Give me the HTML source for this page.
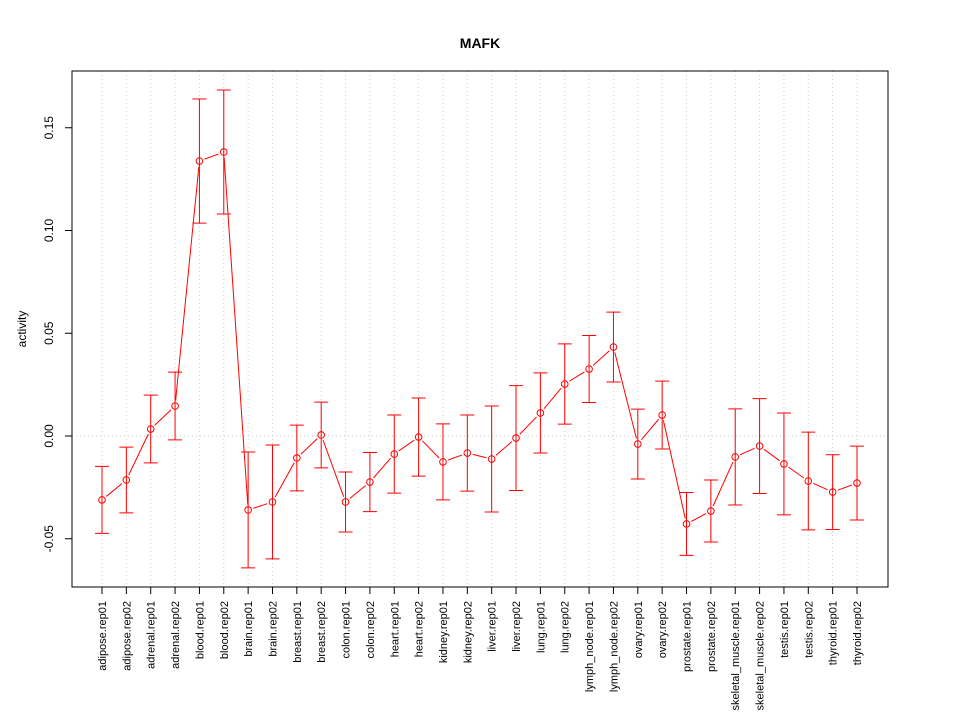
<!DOCTYPE html>
<html><head><meta charset="utf-8"><style>body{margin:0;background:#fff}svg{display:block;font-family:"Liberation Sans",sans-serif}</style></head>
<body>
<svg id="c" width="960" height="720"></svg>
<script>
const categories=["adipose.rep01","adipose.rep02","adrenal.rep01","adrenal.rep02","blood.rep01","blood.rep02","brain.rep01","brain.rep02","breast.rep01","breast.rep02","colon.rep01","colon.rep02","heart.rep01","heart.rep02","kidney.rep01","kidney.rep02","liver.rep01","liver.rep02","lung.rep01","lung.rep02","lymph_node.rep01","lymph_node.rep02","ovary.rep01","ovary.rep02","prostate.rep01","prostate.rep02","skeletal_muscle.rep01","skeletal_muscle.rep02","testis.rep01","testis.rep02","thyroid.rep01","thyroid.rep02"];
const values=[-0.0311,-0.0214,0.0034,0.0146,0.1338,0.1382,-0.0360,-0.0321,-0.0107,0.0005,-0.0321,-0.0224,-0.0088,-0.0005,-0.0126,-0.0083,-0.0112,-0.0010,0.0112,0.0253,0.0326,0.0433,-0.0039,0.0102,-0.0428,-0.0365,-0.0102,-0.0049,-0.0136,-0.0219,-0.0273,-0.0229];
const errors=[0.0163,0.016,0.0165,0.0165,0.0302,0.0302,0.0282,0.0277,0.016,0.016,0.0146,0.0144,0.019,0.019,0.0185,0.0185,0.0258,0.0255,0.0195,0.0195,0.0163,0.017,0.017,0.0165,0.0153,0.0151,0.0234,0.0231,0.0248,0.0238,0.0182,0.018];
const yTicks=[-0.05,0,0.05,0.10,0.15];
const yTickLabels=["-0.05","0.00","0.05","0.10","0.15"];
const svg=document.getElementById('c');const NS="http://www.w3.org/2000/svg";
function mk(t,a,p){const e=document.createElementNS(NS,t);for(const k in a)e.setAttribute(k,a[k]);(p||svg).appendChild(e);return e;}
const L=72,R=888,T=71,B=587;
const x=i=>102+i*(857-102)/(categories.length-1);
const y=v=>436-v*2055;
let e;
e=mk('text',{x:480,y:48,'text-anchor':'middle','font-size':14,'font-weight':'bold'});e.textContent="MAFK";


categories.forEach((c,i)=>{
 e=mk('line',{x1:x(i),x2:x(i),y1:T,y2:B,stroke:'#ccc','stroke-dasharray':'1,3'});
 
 
 e=mk('line',{x1:x(i),x2:x(i),y1:B,y2:B+7,stroke:'#000'});
 
 
 e=mk('text',{x:0,y:0,'font-size':11,'text-anchor':'end',transform:`translate(${x(i)+4},${B+14}) rotate(-90)`});e.textContent=c;
 
 
});
e=mk('line',{x1:L,x2:R,y1:y(0),y2:y(0),stroke:'#ccc','stroke-dasharray':'1,3'});


yTicks.forEach((t,i)=>{
 e=mk('line',{x1:L-7,x2:L,y1:y(t),y2:y(t),stroke:'#000'});
 
 
 e=mk('text',{x:0,y:0,'font-size':12,'text-anchor':'middle',transform:`translate(${L-19},${y(t)}) rotate(-90)`});e.textContent=yTickLabels[i];
 
 
});
e=mk('text',{x:0,y:0,'font-size':12,'text-anchor':'middle',transform:`translate(26,329) rotate(-90)`});e.textContent="activity";


for(let i=0;i<values.length;i++){
 const X=x(i),hi=y(values[i]+errors[i]),lo=y(values[i]-errors[i]);
 e=mk('path',{d:`M${X},${hi}V${lo}M${X-7},${hi}H${X+7}M${X-7},${lo}H${X+7}`,stroke:'#f00',fill:'none'});
 
 
 if(i<values.length-1){
  const x1=X,y1=y(values[i]),x2=x(i+1),y2=y(values[i+1]);const d=Math.hypot(x2-x1,y2-y1),g=5.5;
  if(d>2*g){const ux=(x2-x1)/d,uy=(y2-y1)/d;
  e=mk('line',{x1:x1+ux*g,y1:y1+uy*g,x2:x2-ux*g,y2:y2-uy*g,stroke:'#f00'});
  
  }
 }
 e=mk('circle',{cx:X,cy:y(values[i]),r:3.3,fill:'none',stroke:'#f00'});
 
 
}
e=mk('rect',{x:L,y:T,width:R-L,height:B-T,fill:'none',stroke:'#000'});


</script>
</body></html>
